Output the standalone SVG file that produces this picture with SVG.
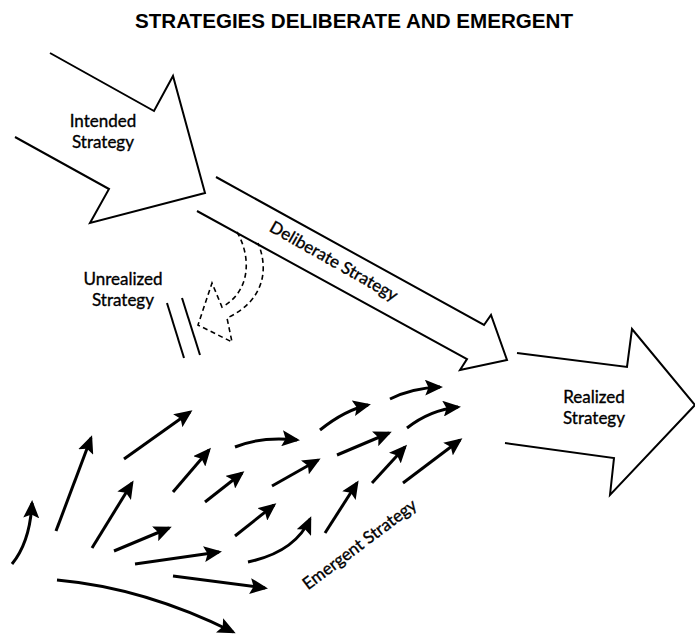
<svg xmlns="http://www.w3.org/2000/svg" width="695" height="635" viewBox="0 0 695 635">
<style>
.outline{fill:none;stroke:#000;stroke-width:2;stroke-linejoin:miter}
.dash{fill:none;stroke:#000;stroke-width:1.6;stroke-dasharray:5 3.5}
.em{fill:none;stroke:#000;stroke-width:3;marker-end:url(#ah)}
.lbl{font-family:Lato,"Open Sans",sans-serif;font-size:17px;fill:#000;stroke:#000;stroke-width:0.35;text-anchor:middle}
.title{font-family:"Liberation Sans",Arial,sans-serif;font-weight:bold;font-size:20px;fill:#000;text-anchor:middle}
</style>
<defs>
<marker id="ah" viewBox="0 0 18 16" refX="15" refY="8" markerWidth="18" markerHeight="16" markerUnits="userSpaceOnUse" orient="auto">
<path d="M0,0 L18,8 L0,16 L3.5,8 z" fill="#000"/>
</marker>
</defs>
<rect width="695" height="635" fill="#fff"/>
<text class="title" x="354" y="28" textLength="438" lengthAdjust="spacingAndGlyphs">STRATEGIES DELIBERATE AND EMERGENT</text>

<g id="intended">
<polyline class="outline" points="50,53 154,111 173,76 205,193 90,223 109,189 15,137"/>
<text class="lbl" x="103" y="127">Intended</text>
<text class="lbl" x="103" y="148">Strategy</text>
</g>

<g id="deliberate">
<polyline class="outline" points="216,177 484,325 491,315 507,360 460,370 467,359 197,211"/>
<text class="lbl" transform="translate(331,266) rotate(29.5)">Deliberate Strategy</text>
</g>

<g id="unrealized">
<path class="dash" d="M237,232 C252,258 250,292 222,307 L212,283 L198,325 L232,342 L227,318 C262,302 270,272 258,243"/>
<line x1="167" y1="303" x2="184" y2="358" stroke="#000" stroke-width="2"/>
<line x1="182" y1="298" x2="200" y2="355" stroke="#000" stroke-width="2"/>
<text class="lbl" x="123" y="285">Unrealized</text>
<text class="lbl" x="123" y="306">Strategy</text>
</g>

<g id="realized">
<polyline class="outline" points="517,353 627,367 632,329 695,405 610,495 614,458 505,443"/>
<text class="lbl" x="594" y="403">Realized</text>
<text class="lbl" x="594" y="424">Strategy</text>
</g>

<g id="emergent">
<text class="lbl" transform="translate(363,549) rotate(-37)">Emergent Strategy</text>
</g>

<g id="connectors">
<path class="em" d="M12,564 Q30,542 32,503"/>
<path class="em" d="M56,531 L91,438"/>
<path class="em" d="M124,459 L190,412"/>
<path class="em" d="M173,492 L209,450"/>
<path class="em" d="M205,502 L242,473"/>
<path class="em" d="M92,548 L132,483"/>
<path class="em" d="M114,551 L169,528"/>
<path class="em" d="M135,564 L219,552"/>
<path class="em" d="M173,576 L265,588"/>
<path class="em" d="M57,580 Q145,588 233,632"/>
<path class="em" d="M235,447 Q262,436 297,440"/>
<path class="em" d="M320,430 Q345,410 368,405"/>
<path class="em" d="M390,399 Q412,388 440,387"/>
<path class="em" d="M407,428 Q430,410 458,407"/>
<path class="em" d="M337,455 L389,433"/>
<path class="em" d="M272,486 L318,460"/>
<path class="em" d="M235,536 L274,505"/>
<path class="em" d="M248,562 Q295,552 310,519"/>
<path class="em" d="M325,533 L357,483"/>
<path class="em" d="M372,483 L405,447"/>
<path class="em" d="M403,483 L460,440"/>
</g>
</svg>
